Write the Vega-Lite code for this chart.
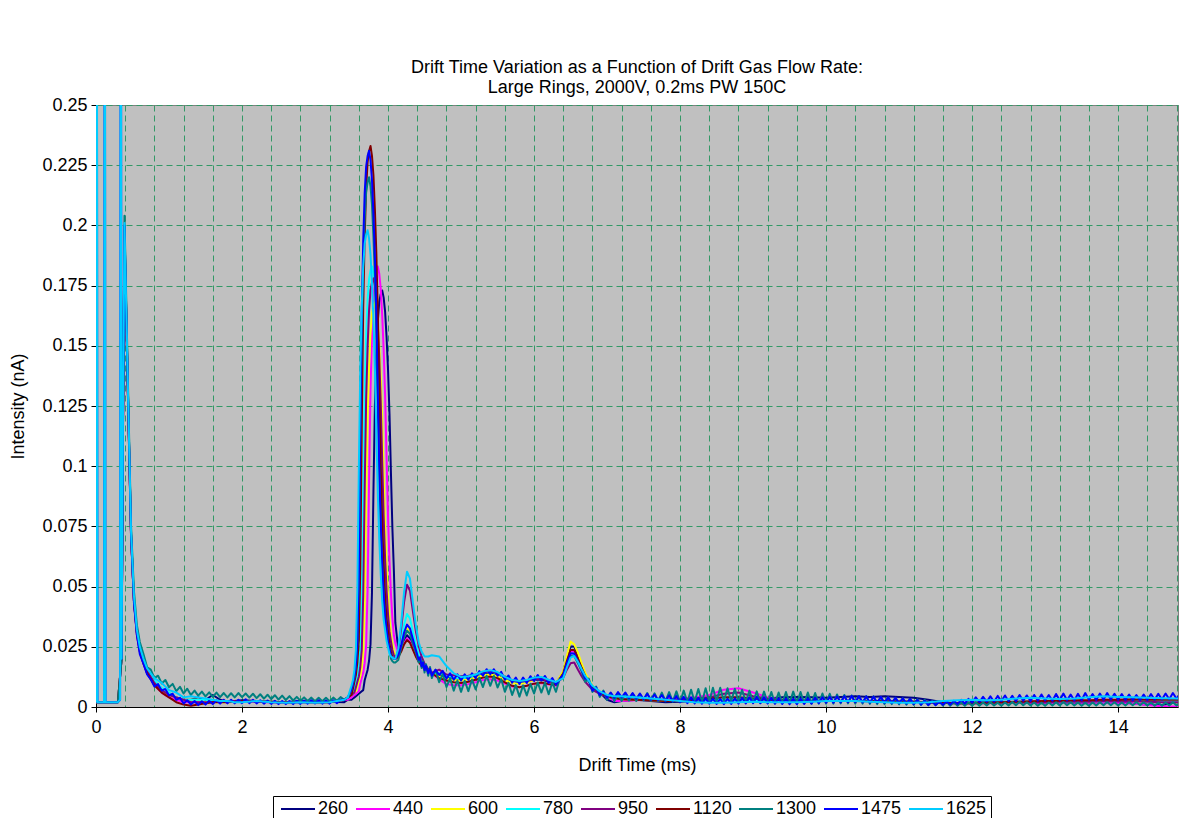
{
"$schema":"https://vega.github.io/schema/vega-lite/v6.json",
"width":1082,"height":602,
"autosize":{"type":"none"},
"padding":{"left":96,"top":105,"right":1,"bottom":111},
"background":"white",
"title":{"text":["Drift Time Variation as a Function of Drift Gas Flow Rate:","Large Rings, 2000V, 0.2ms PW 150C"],"fontSize":18,"fontWeight":"normal","font":"Liberation Sans","color":"black","lineHeight":20,"offset":-1,"anchor":"middle"},
"data":{"values":[
{"t":0,"260":0.002,"440":0.002,"600":0.002,"780":0.002,"950":0.002,"1120":0.002,"1300":0.002,"1475":0.002,"1625":0.002},
{"t":0.01,"1475":0.4,"1625":0.4},
{"t":0.02,"1475":0.002,"1625":0.002},
{"t":0.11,"1475":0.002,"1625":0.002},
{"t":0.12,"1475":0.4,"1625":0.4},
{"t":0.13,"1475":0.002,"1625":0.002},
{"t":0.3,"260":0.002,"440":0.002,"600":0.002,"780":0.002,"950":0.002,"1120":0.002,"1300":0.002,"1475":0.002,"1625":0.002},
{"t":0.33,"1475":0.003,"1625":0.003},
{"t":0.34,"1475":0.4,"1625":0.4},
{"t":0.35,"260":0.02,"440":0.02,"600":0.02,"780":0.02,"950":0.02,"1120":0.02,"1300":0.02,"1475":0.02,"1625":0.02},
{"t":0.37,"260":0.115,"440":0.118,"600":0.12,"780":0.122,"950":0.118,"1120":0.12,"1300":0.125,"1475":0.12,"1625":0.122},
{"t":0.39,"260":0.195,"440":0.197,"600":0.198,"780":0.2,"950":0.196,"1120":0.198,"1300":0.204,"1475":0.2,"1625":0.201},
{"t":0.41,"260":0.168,"440":0.169,"600":0.17,"780":0.171,"950":0.169,"1120":0.17,"1300":0.175,"1475":0.17,"1625":0.172},
{"t":0.44,"260":0.125,"440":0.126,"600":0.127,"780":0.128,"950":0.126,"1120":0.127,"1300":0.131,"1475":0.127,"1625":0.128},
{"t":0.48,"260":0.071,"440":0.071,"600":0.072,"780":0.073,"950":0.071,"1120":0.072,"1300":0.075,"1475":0.072,"1625":0.073},
{"t":0.52,"260":0.044,"440":0.044,"600":0.045,"780":0.045,"950":0.044,"1120":0.044,"1300":0.048,"1475":0.043,"1625":0.046},
{"t":0.56,"260":0.031,"440":0.03,"600":0.031,"780":0.031,"950":0.031,"1120":0.03,"1300":0.034,"1475":0.03,"1625":0.032},
{"t":0.6,"260":0.024,"440":0.023,"600":0.024,"780":0.024,"950":0.024,"1120":0.023,"1300":0.027,"1475":0.022,"1625":0.025},
{"t":0.65,"260":0.019,"440":0.018,"600":0.019,"780":0.019,"950":0.019,"1120":0.018,"1300":0.022,"1475":0.018,"1625":0.02},
{"t":0.7,"260":0.015,"440":0.014,"600":0.015,"780":0.015,"950":0.015,"1120":0.014,"1300":0.0165,"1475":0.0135,"1625":0.016},
{"t":0.75,"1300":0.0155,"1475":0.0115},
{"t":0.8,"260":0.01,"440":0.009,"600":0.01,"780":0.011,"950":0.01,"1120":0.009,"1300":0.012,"1475":0.0085,"1625":0.012},
{"t":0.85,"1300":0.013,"1475":0.0095},
{"t":0.9,"260":0.007,"440":0.006,"600":0.007,"780":0.008,"950":0.007,"1120":0.006,"1300":0.0098,"1475":0.0068,"1625":0.01},
{"t":0.95,"1300":0.0112,"1475":0.0075},
{"t":1.0,"260":0.005,"440":0.004,"600":0.005,"780":0.006,"950":0.005,"1120":0.004,"1300":0.0082,"1475":0.0048,"1625":0.007},
{"t":1.05,"1300":0.0096,"1475":0.0055},
{"t":1.1,"260":0.004,"440":0.003,"600":0.004,"780":0.004,"950":0.004,"1120":0.002,"1300":0.0066,"1475":0.003,"1625":0.006},
{"t":1.15,"1300":0.0084,"1475":0.0038},
{"t":1.2,"260":0.003,"440":0.002,"600":0.003,"780":0.003,"950":0.003,"1120":0.001,"1300":0.0056,"1475":0.0015,"1625":0.004},
{"t":1.25,"1300":0.0076,"1475":0.0028},
{"t":1.3,"260":0.003,"440":0.002,"600":0.003,"780":0.003,"950":0.002,"1120":0.0005,"1300":0.005,"1475":0.001,"1625":0.0045},
{"t":1.35,"1300":0.0068,"1475":0.0025},
{"t":1.4,"260":0.004,"440":0.002,"600":0.003,"780":0.003,"950":0.002,"1120":0.001,"1300":0.0047,"1475":0.0008,"1625":0.004},
{"t":1.45,"1300":0.0064,"1475":0.0024},
{"t":1.5,"260":0.003,"440":0.002,"600":0.002,"780":0.003,"950":0.002,"1120":0.0015,"1300":0.0044,"1475":0.001,"1625":0.0035},
{"t":1.55,"1300":0.0061,"1475":0.0026},
{"t":1.6,"260":0.005,"440":0.002,"600":0.002,"780":0.0025,"950":0.002,"1120":0.002,"1300":0.0042,"1475":0.0012,"1625":0.003},
{"t":1.65,"1300":0.006,"1475":0.0028},
{"t":1.7,"260":0.003,"440":0.0025,"600":0.002,"780":0.0025,"950":0.0025,"1120":0.002,"1300":0.0041,"1475":0.0014,"1625":0.0025},
{"t":1.75,"1300":0.0058,"1475":0.003},
{"t":1.8,"260":0.002,"440":0.0025,"600":0.002,"780":0.0025,"950":0.0025,"1120":0.002,"1300":0.004,"1475":0.0015,"1625":0.0025},
{"t":1.85,"1300":0.0057,"1475":0.003},
{"t":1.9,"260":0.0025,"440":0.0025,"600":0.0022,"780":0.0025,"950":0.0025,"1120":0.0022,"1300":0.004,"1475":0.0015,"1625":0.002},
{"t":1.95,"1300":0.0058,"1475":0.003},
{"t":2.0,"260":0.0028,"440":0.0025,"600":0.0025,"780":0.0025,"950":0.0025,"1120":0.0025,"1300":0.0041,"1475":0.0016,"1625":0.002},
{"t":2.05,"1300":0.0056,"1475":0.0032},
{"t":2.1,"1300":0.0039,"1475":0.0016},
{"t":2.15,"1300":0.0055,"1475":0.003},
{"t":2.2,"260":0.0025,"440":0.0022,"600":0.0025,"780":0.0025,"950":0.0022,"1120":0.0025,"1300":0.0037,"1475":0.0015,"1625":0.0025},
{"t":2.25,"1300":0.0053,"1475":0.0028},
{"t":2.3,"1300":0.0035,"1475":0.0014},
{"t":2.35,"1300":0.0051,"1475":0.0027},
{"t":2.4,"260":0.0022,"440":0.002,"600":0.0022,"780":0.0022,"950":0.002,"1120":0.0022,"1300":0.0033,"1475":0.0013,"1625":0.002},
{"t":2.45,"1300":0.0049,"1475":0.0026},
{"t":2.5,"1300":0.0031,"1475":0.0012},
{"t":2.55,"1300":0.0047,"1475":0.0025},
{"t":2.6,"260":0.002,"440":0.0018,"600":0.002,"780":0.002,"950":0.0018,"1120":0.002,"1300":0.0029,"1475":0.0012,"1625":0.0018},
{"t":2.65,"1300":0.0045,"1475":0.0025},
{"t":2.7,"1300":0.0027,"1475":0.0012},
{"t":2.75,"1300":0.0042,"1475":0.0026},
{"t":2.8,"260":0.0025,"440":0.002,"600":0.002,"780":0.0022,"950":0.002,"1120":0.0022,"1300":0.0026,"1475":0.0013,"1625":0.002},
{"t":2.85,"1300":0.004,"1475":0.0027},
{"t":2.9,"1300":0.0025,"1475":0.0014},
{"t":2.95,"1300":0.0039,"1475":0.0028},
{"t":3.0,"260":0.002,"440":0.0018,"600":0.0018,"780":0.002,"950":0.0018,"1120":0.002,"1300":0.0024,"1475":0.0015,"1625":0.0018},
{"t":3.05,"1300":0.0038,"1475":0.0028},
{"t":3.1,"1300":0.0024,"1475":0.0014},
{"t":3.15,"1300":0.0038,"1475":0.0027},
{"t":3.2,"260":0.0022,"440":0.002,"600":0.002,"780":0.0022,"950":0.002,"1120":0.002,"1300":0.0024,"1475":0.0014,"1625":0.002},
{"t":3.25,"1300":0.0039,"1475":0.0028},
{"t":3.3,"1300":0.0026,"1475":0.0016},
{"t":3.35,"1300":0.0041,"1475":0.003},
{"t":3.4,"260":0.002,"440":0.003,"600":0.003,"780":0.003,"950":0.003,"1120":0.003,"1300":0.003,"1475":0.003,"1625":0.003},
{"t":3.45,"260":0.003,"440":0.003,"600":0.004,"780":0.004,"950":0.004,"1120":0.004,"1300":0.004,"1475":0.004,"1625":0.004},
{"t":3.5,"260":0.003,"440":0.004,"600":0.005,"780":0.005,"950":0.005,"1120":0.005,"1300":0.0072,"1475":0.0073,"1625":0.0089},
{"t":3.52,"260":0.0035,"440":0.0045,"600":0.0055,"780":0.0055,"950":0.0055,"1120":0.0077,"1300":0.0098,"1475":0.01,"1625":0.0112},
{"t":3.54,"260":0.004,"440":0.005,"600":0.006,"780":0.0077,"950":0.006,"1120":0.0106,"1300":0.0124,"1475":0.0127,"1625":0.0156},
{"t":3.56,"260":0.0045,"440":0.0055,"600":0.0065,"780":0.0101,"950":0.0082,"1120":0.0133,"1300":0.0172,"1475":0.0178,"1625":0.0237},
{"t":3.58,"260":0.005,"440":0.006,"600":0.0086,"780":0.0123,"950":0.0105,"1120":0.0184,"1300":0.0262,"1475":0.0272,"1625":0.0491},
{"t":3.6,"260":0.0055,"440":0.0065,"600":0.0108,"780":0.0163,"950":0.0126,"1120":0.0278,"1300":0.0543,"1475":0.0567,"1625":0.0989},
{"t":3.62,"260":0.006,"440":0.0097,"600":0.0128,"780":0.0238,"950":0.0165,"1120":0.0575,"1300":0.1098,"1475":0.1151,"1625":0.141},
{"t":3.64,"260":0.0065,"440":0.012,"600":0.0165,"780":0.0469,"950":0.0237,"1120":0.1162,"1300":0.1566,"1475":0.1643,"1625":0.1657},
{"t":3.66,"260":0.007,"440":0.0142,"600":0.0233,"780":0.0925,"950":0.0462,"1120":0.1658,"1300":0.1841,"1475":0.1932,"1625":0.1829},
{"t":3.68,"260":0.0111,"440":0.0182,"600":0.0444,"780":0.131,"950":0.0903,"1120":0.195,"1300":0.2032,"1475":0.2133,"1625":0.1924},
{"t":3.7,"260":0.0133,"440":0.0256,"600":0.0858,"780":0.1536,"950":0.1276,"1120":0.2152,"1300":0.2137,"1475":0.2244,"1625":0.1961},
{"t":3.72,"260":0.0154,"440":0.0485,"600":0.1208,"780":0.1692,"950":0.1495,"1120":0.2263,"1300":0.2179,"1475":0.2288,"1625":0.198},
{"t":3.74,"260":0.0192,"440":0.0935,"600":0.1413,"780":0.1778,"950":0.1647,"1120":0.2308,"1300":0.22,"1475":0.231,"1625":0.1946},
{"t":3.76,"260":0.0261,"440":0.1316,"600":0.1555,"780":0.1813,"950":0.173,"1120":0.233,"1300":0.2162,"1475":0.227,"1625":0.1879},
{"t":3.78,"260":0.0475,"440":0.1539,"600":0.1634,"780":0.183,"950":0.1763,"1120":0.2289,"1300":0.2086,"1475":0.2189,"1625":0.1762},
{"t":3.8,"260":0.0895,"440":0.1694,"600":0.1664,"780":0.1799,"950":0.178,"1120":0.2208,"1300":0.1953,"1475":0.2049,"1625":0.161},
{"t":3.82,"260":0.125,"440":0.1779,"600":0.168,"780":0.1738,"950":0.175,"1120":0.2066,"1300":0.1782,"1475":0.1868,"1625":0.1409},
{"t":3.84,"260":0.1459,"440":0.1813,"600":0.1652,"780":0.1631,"950":0.1691,"1120":0.1883,"1300":0.1554,"1475":0.1627,"1625":0.114},
{"t":3.86,"260":0.1603,"440":0.183,"600":0.1597,"780":0.1492,"950":0.1587,"1120":0.1638,"1300":0.1248,"1475":0.1303,"1625":0.0885},
{"t":3.88,"260":0.1682,"440":0.1799,"600":0.15,"780":0.1307,"950":0.1452,"1120":0.131,"1300":0.0959,"1475":0.0998,"1625":0.0695},
{"t":3.9,"260":0.1715,"440":0.1737,"600":0.1372,"780":0.1055,"950":0.127,"1120":0.0998,"1300":0.0741,"1475":0.0767,"1625":0.0552},
{"t":3.92,"260":0.173,"440":0.1627,"600":0.1201,"780":0.0816,"950":0.1025,"1120":0.0764,"1300":0.0579,"1475":0.0597,"1625":0.0441},
{"t":3.94,"260":0.17,"440":0.1484,"600":0.097,"780":0.0637,"950":0.0792,"1120":0.0591,"1300":0.0454,"1475":0.0465,"1625":0.0363},
{"t":3.96,"260":0.1641,"440":0.1293,"600":0.0751,"780":0.0503,"950":0.0617,"1120":0.0458,"1300":0.0367,"1475":0.0374,"1625":0.0319},
{"t":3.98,"260":0.1536,"440":0.1035,"600":0.0585,"780":0.0399,"950":0.0487,"1120":0.0366,"1300":0.0318,"1475":0.0322,"1625":0.0275},
{"t":4.0,"260":0.14,"440":0.079,"600":0.0462,"780":0.0326,"950":0.0385,"1120":0.0314,"1300":0.0269,"1475":0.0271,"1625":0.0248},
{"t":4.02,"260":0.1217,"440":0.0606,"600":0.0366,"780":0.0284,"950":0.0314,"1120":0.0263,"1300":0.024,"1475":0.0241,"1625":0.022},
{"t":4.04,"260":0.097,"440":0.0469,"600":0.0298,"780":0.0243,"950":0.0273,"1120":0.0231,"1300":0.02,"1475":0.021,"1625":0.021},
{"t":4.06,"260":0.0739,"440":0.0368,"600":0.0264,"780":0.0221,"950":0.0237,"1120":0.0205,"1300":0.019,"1475":0.0205,"1625":0.0205},
{"t":4.08,"260":0.0567,"440":0.0298,"600":0.023,"780":0.02,"950":0.0216,"1120":0.02,"1300":0.0185,"1475":0.02,"1625":0.02},
{"t":4.1,"260":0.035,"440":0.0265,"600":0.0215,"780":0.02,"950":0.02,"1120":0.02,"1300":0.0185,"1475":0.02,"1625":0.02},
{"t":4.14,"260":0.024,"440":0.0226,"600":0.0213,"780":0.022,"950":0.0235,"1120":0.0207,"1300":0.0195,"1475":0.0215,"1625":0.0242},
{"t":4.18,"260":0.025,"440":0.0233,"600":0.025,"780":0.0274,"950":0.0324,"1120":0.023,"1300":0.0246,"1475":0.0256,"1625":0.0346},
{"t":4.22,"260":0.0275,"440":0.0265,"600":0.0298,"780":0.0343,"950":0.0436,"1120":0.026,"1300":0.029,"1475":0.0309,"1625":0.0478},
{"t":4.26,"260":0.0298,"440":0.0285,"600":0.0327,"780":0.0386,"950":0.0508,"1120":0.0278,"1300":0.0317,"1475":0.0342,"1625":0.0562},
{"t":4.3,"260":0.0285,"440":0.0273,"600":0.0313,"780":0.0368,"950":0.0483,"1120":0.0267,"1300":0.0304,"1475":0.0327,"1625":0.0534},
{"t":4.34,"260":0.0252,"440":0.0243,"600":0.0272,"780":0.0313,"950":0.0398,"1120":0.0238,"1300":0.0265,"1475":0.0282,"1625":0.0435},
{"t":4.38,"260":0.0219,"440":0.0213,"600":0.0233,"780":0.026,"950":0.0316,"1120":0.021,"1300":0.0228,"1475":0.0239,"1625":0.0341},
{"t":4.42,"260":0.0194,"440":0.019,"600":0.0202,"780":0.0219,"950":0.0254,"1120":0.0188,"1300":0.0185,"1475":0.0196,"1625":0.0269},
{"t":4.44,"1300":0.0208,"1475":0.0205},
{"t":4.46,"260":0.0174,"440":0.0172,"600":0.0179,"780":0.0189,"950":0.0209,"1120":0.0171,"1300":0.0162,"1475":0.0169,"1625":0.023},
{"t":4.48,"1300":0.019,"1475":0.0185},
{"t":4.5,"260":0.0161,"440":0.016,"600":0.0164,"780":0.0169,"950":0.018,"1120":0.0159,"1300":0.0143,"1475":0.0153,"1625":0.021},
{"t":4.52,"1300":0.0178,"1475":0.0172},
{"t":4.55,"260":0.015,"440":0.0149,"600":0.0151,"780":0.0153,"950":0.0158,"1120":0.0149,"1300":0.013,"1475":0.014,"1625":0.021},
{"t":4.575,"1300":0.0166,"1475":0.0159},
{"t":4.6,"260":0.0141,"440":0.014,"600":0.0142,"780":0.0142,"950":0.0143,"1120":0.014,"1300":0.012,"1475":0.013,"1625":0.0215},
{"t":4.65,"1300":0.0155,"1475":0.0155},
{"t":4.7,"260":0.0135,"440":0.0115,"600":0.0128,"780":0.014,"950":0.0155,"1120":0.012,"1300":0.0103,"1475":0.0133,"1625":0.021},
{"t":4.75,"1300":0.0137,"1475":0.015},
{"t":4.8,"260":0.0125,"440":0.0095,"600":0.0118,"780":0.013,"950":0.0135,"1120":0.011,"1300":0.0083,"1475":0.0118,"1625":0.017},
{"t":4.85,"1300":0.012,"1475":0.014},
{"t":4.9,"260":0.0118,"440":0.009,"600":0.0112,"780":0.0122,"950":0.0132,"1120":0.0103,"1300":0.0068,"1475":0.0113,"1625":0.014},
{"t":4.95,"1300":0.011,"1475":0.0136},
{"t":5.0,"260":0.0116,"440":0.009,"600":0.011,"780":0.0118,"950":0.0128,"1120":0.01,"1300":0.0063,"1475":0.011,"1625":0.0125},
{"t":5.05,"1300":0.0109,"1475":0.0136},
{"t":5.1,"260":0.0122,"440":0.0095,"600":0.0115,"780":0.0123,"950":0.013,"1120":0.0105,"1300":0.0066,"1475":0.0113,"1625":0.0128},
{"t":5.15,"1300":0.0114,"1475":0.014},
{"t":5.2,"260":0.013,"440":0.0103,"600":0.0122,"780":0.0132,"950":0.0135,"1120":0.0113,"1300":0.0073,"1475":0.012,"1625":0.0135},
{"t":5.25,"1300":0.0122,"1475":0.0149},
{"t":5.3,"260":0.014,"440":0.0112,"600":0.0131,"780":0.0142,"950":0.0143,"1120":0.0122,"1300":0.0083,"1475":0.013,"1625":0.0148},
{"t":5.35,"1300":0.013,"1475":0.0157},
{"t":5.4,"260":0.0143,"440":0.0115,"600":0.0135,"780":0.0147,"950":0.0148,"1120":0.0127,"1300":0.0088,"1475":0.0136,"1625":0.0153},
{"t":5.45,"1300":0.0129,"1475":0.0157},
{"t":5.5,"260":0.0136,"440":0.011,"600":0.0128,"780":0.014,"950":0.0142,"1120":0.012,"1300":0.0081,"1475":0.013,"1625":0.0145},
{"t":5.55,"1300":0.0116,"1475":0.0146},
{"t":5.6,"260":0.012,"440":0.0097,"600":0.0112,"780":0.0122,"950":0.0125,"1120":0.0102,"1300":0.0063,"1475":0.0113,"1625":0.0125},
{"t":5.65,"1300":0.0101,"1475":0.0131},
{"t":5.7,"260":0.0108,"440":0.0085,"600":0.01,"780":0.011,"950":0.011,"1120":0.0088,"1300":0.005,"1475":0.0101,"1625":0.0112},
{"t":5.75,"1300":0.0091,"1475":0.0122},
{"t":5.8,"260":0.0102,"440":0.0082,"600":0.0095,"780":0.0104,"950":0.0105,"1120":0.0082,"1300":0.0043,"1475":0.0096,"1625":0.0108},
{"t":5.85,"1300":0.009,"1475":0.0122},
{"t":5.9,"260":0.0106,"440":0.0088,"600":0.0102,"780":0.0108,"950":0.0108,"1120":0.0088,"1300":0.0048,"1475":0.01,"1625":0.0112},
{"t":5.95,"1300":0.0096,"1475":0.0128},
{"t":6.0,"260":0.0112,"440":0.0096,"600":0.0112,"780":0.0116,"950":0.0115,"1120":0.0097,"1300":0.0056,"1475":0.0108,"1625":0.0122},
{"t":6.05,"1300":0.0102,"1475":0.0133},
{"t":6.1,"260":0.0114,"440":0.01,"600":0.0125,"780":0.012,"950":0.0117,"1120":0.0102,"1300":0.006,"1475":0.011,"1625":0.0125},
{"t":6.15,"1300":0.0101,"1475":0.0129},
{"t":6.2,"260":0.0105,"440":0.0093,"600":0.0108,"780":0.011,"950":0.0107,"1120":0.0095,"1300":0.0053,"1475":0.01,"1625":0.0113},
{"t":6.25,"1300":0.0102,"1475":0.012},
{"t":6.3,"260":0.0098,"440":0.0088,"600":0.0098,"780":0.0102,"950":0.01,"1120":0.0092,"1300":0.0063,"1475":0.0093,"1625":0.0104},
{"t":6.35,"1300":0.0115,"1475":0.0115},
{"t":6.4,"260":0.0144,"440":0.0138,"600":0.0149,"780":0.0125,"950":0.0122,"1120":0.014,"1300":0.0132,"1475":0.0135,"1625":0.012},
{"t":6.45,"260":0.0202,"440":0.0189,"600":0.0212,"780":0.017,"950":0.0155,"1120":0.0192,"1300":0.0176,"1475":0.0183,"1625":0.0165},
{"t":6.5,"260":0.0251,"440":0.0232,"600":0.0272,"780":0.021,"950":0.0182,"1120":0.0237,"1300":0.0213,"1475":0.0223,"1625":0.0205},
{"t":6.55,"260":0.0251,"440":0.0232,"600":0.026,"780":0.0215,"950":0.0185,"1120":0.0237,"1300":0.0212,"1475":0.0222,"1625":0.0212},
{"t":6.6,"260":0.0214,"440":0.0198,"600":0.0226,"780":0.019,"950":0.0156,"1120":0.0202,"1300":0.0182,"1475":0.019,"1625":0.0188},
{"t":6.65,"260":0.0173,"440":0.0161,"600":0.0182,"780":0.0155,"950":0.0129,"1120":0.0164,"1300":0.0149,"1475":0.0155,"1625":0.0158},
{"t":6.7,"260":0.0136,"440":0.0127,"600":0.0142,"780":0.0125,"950":0.0105,"1120":0.0129,"1300":0.0105,"1475":0.0118,"1625":0.013},
{"t":6.75,"1300":0.0118,"1475":0.0112},
{"t":6.8,"260":0.0086,"440":0.0082,"600":0.0089,"780":0.0082,"950":0.0071,"1120":0.0083,"1300":0.0062,"1475":0.0068,"1625":0.0088},
{"t":6.85,"1300":0.0085,"1475":0.0081},
{"t":6.9,"260":0.0061,"440":0.0059,"600":0.0063,"780":0.006,"950":0.0055,"1120":0.006,"1300":0.0042,"1475":0.0049,"1625":0.0065},
{"t":6.95,"1300":0.0068,"1475":0.0064},
{"t":7.0,"260":0.003,"440":0.0045,"600":0.0046,"780":0.0046,"950":0.0043,"1120":0.0045,"1300":0.003,"1475":0.0038,"1625":0.005},
{"t":7.05,"1300":0.0058,"1475":0.006},
{"t":7.1,"260":0.002,"440":0.0025,"600":0.0037,"780":0.004,"950":0.0037,"1120":0.0037,"1300":0.0025,"1475":0.0038,"1625":0.0045},
{"t":7.15,"1300":0.0055,"1475":0.0062},
{"t":7.2,"260":0.0025,"440":0.0025,"600":0.0032,"780":0.0038,"950":0.0033,"1120":0.0032,"1300":0.0025,"1475":0.004,"1625":0.0045},
{"t":7.25,"1300":0.0058,"1475":0.006},
{"t":7.3,"1300":0.0027,"1475":0.0036},
{"t":7.35,"1300":0.0056,"1475":0.0058},
{"t":7.4,"260":0.003,"440":0.0028,"600":0.003,"780":0.0035,"950":0.003,"1120":0.003,"1300":0.0025,"1475":0.0034,"1625":0.004},
{"t":7.45,"1300":0.0055,"1475":0.0056},
{"t":7.5,"1300":0.0028,"1475":0.0032},
{"t":7.55,"1300":0.0058,"1475":0.0055},
{"t":7.6,"260":0.0025,"440":0.003,"600":0.0028,"780":0.0033,"950":0.0028,"1120":0.0028,"1300":0.0026,"1475":0.003,"1625":0.0035},
{"t":7.65,"1300":0.0057,"1475":0.0052},
{"t":7.7,"1300":0.0025,"1475":0.0028},
{"t":7.75,"1300":0.006,"1475":0.005},
{"t":7.8,"260":0.002,"440":0.0032,"600":0.0026,"780":0.003,"950":0.003,"1120":0.0025,"1300":0.0024,"1475":0.0026,"1625":0.003},
{"t":7.85,"1300":0.0062,"1475":0.0048},
{"t":7.9,"1300":0.0022,"1475":0.0024},
{"t":7.95,"1300":0.0065,"1475":0.0045},
{"t":8.0,"260":0.0022,"440":0.0035,"600":0.0025,"780":0.0028,"950":0.0032,"1120":0.0025,"1300":0.002,"1475":0.002,"1625":0.0025},
{"t":8.05,"1300":0.0068,"1475":0.0042},
{"t":8.1,"1300":0.002,"1475":0.0016},
{"t":8.15,"1300":0.0072,"1475":0.004},
{"t":8.2,"260":0.0025,"440":0.004,"600":0.0028,"780":0.0027,"950":0.0035,"1120":0.003,"1300":0.0022,"1475":0.0015,"1625":0.002},
{"t":8.25,"1300":0.0075,"1475":0.0038},
{"t":8.3,"1300":0.002,"1475":0.0014},
{"t":8.35,"1300":0.0078,"1475":0.0036},
{"t":8.4,"260":0.003,"440":0.005,"600":0.003,"780":0.0028,"950":0.004,"1120":0.0035,"1300":0.0022,"1475":0.0014,"1625":0.0018},
{"t":8.45,"1300":0.008,"1475":0.0035},
{"t":8.5,"1300":0.0024,"1475":0.0013},
{"t":8.55,"1300":0.008,"1475":0.0034},
{"t":8.6,"260":0.0032,"440":0.0072,"600":0.0033,"780":0.003,"950":0.0055,"1120":0.004,"1300":0.0025,"1475":0.0012,"1625":0.0018},
{"t":8.65,"1300":0.0078,"1475":0.0035},
{"t":8.7,"1300":0.0024,"1475":0.0013},
{"t":8.75,"1300":0.0076,"1475":0.0036},
{"t":8.8,"260":0.003,"440":0.0078,"600":0.0035,"780":0.0028,"950":0.006,"1120":0.004,"1300":0.0022,"1475":0.0014,"1625":0.002},
{"t":8.85,"1300":0.0072,"1475":0.0038},
{"t":8.9,"1300":0.002,"1475":0.0015},
{"t":8.95,"1300":0.0068,"1475":0.004},
{"t":9.0,"260":0.003,"440":0.006,"600":0.0032,"780":0.0026,"950":0.0045,"1120":0.0035,"1300":0.0018,"1475":0.0016,"1625":0.0022},
{"t":9.05,"1300":0.0065,"1475":0.0042},
{"t":9.1,"1300":0.0016,"1475":0.0016},
{"t":9.15,"1300":0.0064,"1475":0.004},
{"t":9.2,"260":0.0035,"440":0.004,"600":0.003,"780":0.0025,"950":0.0035,"1120":0.003,"1300":0.0016,"1475":0.0015,"1625":0.002},
{"t":9.25,"1300":0.0062,"1475":0.0038},
{"t":9.3,"1300":0.0015,"1475":0.0014},
{"t":9.35,"1300":0.006,"1475":0.0036},
{"t":9.4,"260":0.004,"440":0.003,"600":0.0028,"780":0.0025,"950":0.003,"1120":0.0028,"1300":0.0015,"1475":0.0013,"1625":0.002},
{"t":9.45,"1300":0.0062,"1475":0.0035},
{"t":9.5,"1300":0.0016,"1475":0.0012},
{"t":9.55,"1300":0.0064,"1475":0.0034},
{"t":9.6,"260":0.0042,"440":0.0028,"600":0.0026,"780":0.0024,"950":0.0028,"1120":0.0026,"1300":0.0016,"1475":0.0012,"1625":0.002},
{"t":9.65,"1300":0.0062,"1475":0.0035},
{"t":9.7,"1300":0.0015,"1475":0.0013},
{"t":9.75,"1300":0.006,"1475":0.0036},
{"t":9.8,"260":0.004,"440":0.0025,"600":0.0025,"780":0.0024,"950":0.0026,"1120":0.0025,"1300":0.0014,"1475":0.0014,"1625":0.0022},
{"t":9.85,"1300":0.0058,"1475":0.0038},
{"t":9.9,"1300":0.0014,"1475":0.0016},
{"t":9.95,"1300":0.0056,"1475":0.004},
{"t":10.0,"260":0.0038,"440":0.0025,"600":0.0025,"780":0.0025,"950":0.0025,"1120":0.0025,"1300":0.0014,"1475":0.0018,"1625":0.0025},
{"t":10.05,"1300":0.0055,"1475":0.0042},
{"t":10.1,"1300":0.0014,"1475":0.0018},
{"t":10.15,"1300":0.0052,"1475":0.0044},
{"t":10.2,"260":0.0042,"440":0.0025,"600":0.0025,"780":0.0025,"950":0.0025,"1120":0.0025,"1300":0.0015,"1475":0.0019,"1625":0.0025},
{"t":10.25,"1300":0.005,"1475":0.0045},
{"t":10.3,"1300":0.0015,"1475":0.002},
{"t":10.35,"1300":0.0048,"1475":0.0046},
{"t":10.4,"260":0.0045,"440":0.0025,"600":0.0025,"780":0.0025,"950":0.0025,"1120":0.0025,"1300":0.0014,"1475":0.002,"1625":0.0025},
{"t":10.45,"1300":0.0046,"1475":0.0045},
{"t":10.5,"1300":0.0014,"1475":0.0019},
{"t":10.55,"1300":0.0045,"1475":0.0044},
{"t":10.6,"260":0.0042,"440":0.0024,"600":0.0024,"780":0.0024,"950":0.0024,"1120":0.0025,"1300":0.0013,"1475":0.0018,"1625":0.0022},
{"t":10.65,"1300":0.0044,"1475":0.0043},
{"t":10.7,"1300":0.0012,"1475":0.0018},
{"t":10.75,"1300":0.0042,"1475":0.0042},
{"t":10.8,"260":0.0045,"440":0.0024,"600":0.0023,"780":0.0024,"950":0.0023,"1120":0.0024,"1300":0.0012,"1475":0.0017,"1625":0.002},
{"t":10.85,"1300":0.004,"1475":0.004},
{"t":10.9,"1300":0.0012,"1475":0.0016},
{"t":10.95,"1300":0.0038,"1475":0.0038},
{"t":11.0,"260":0.0042,"440":0.0023,"600":0.0022,"780":0.0023,"950":0.0022,"1120":0.0023,"1300":0.0011,"1475":0.0015,"1625":0.0018},
{"t":11.05,"1300":0.0036,"1475":0.0036},
{"t":11.1,"1300":0.001,"1475":0.0014},
{"t":11.15,"1300":0.0034,"1475":0.0034},
{"t":11.2,"260":0.0038,"440":0.0022,"600":0.0022,"780":0.0022,"950":0.0022,"1120":0.0022,"1300":0.001,"1475":0.0012,"1625":0.0018},
{"t":11.25,"1300":0.0032,"1475":0.003},
{"t":11.3,"1300":0.0009,"1475":0.001},
{"t":11.35,"1300":0.003,"1475":0.0026},
{"t":11.4,"260":0.003,"440":0.002,"600":0.002,"780":0.002,"950":0.002,"1120":0.002,"1300":0.0008,"1475":0.0008,"1625":0.002},
{"t":11.45,"1300":0.0026,"1475":0.0024},
{"t":11.5,"1300":0.0007,"1475":0.0008},
{"t":11.55,"1300":0.0024,"1475":0.0022},
{"t":11.6,"260":0.002,"440":0.0018,"600":0.0018,"780":0.0018,"950":0.0018,"1120":0.0018,"1300":0.0006,"1475":0.0009,"1625":0.0025},
{"t":11.65,"1300":0.0022,"1475":0.0024},
{"t":11.7,"1300":0.0005,"1475":0.001},
{"t":11.75,"1300":0.0021,"1475":0.0026},
{"t":11.8,"260":0.0015,"440":0.0015,"600":0.0016,"780":0.0016,"950":0.0016,"1120":0.0016,"1300":0.0005,"1475":0.0012,"1625":0.0028},
{"t":11.85,"1300":0.002,"1475":0.003},
{"t":11.9,"1300":0.0005,"1475":0.0014},
{"t":11.95,"1300":0.002,"1475":0.0034},
{"t":12.0,"260":0.0018,"440":0.0015,"600":0.0016,"780":0.0017,"950":0.0016,"1120":0.0016,"1300":0.0005,"1475":0.0018,"1625":0.003},
{"t":12.05,"1300":0.002,"1475":0.004},
{"t":12.1,"1300":0.0005,"1475":0.002},
{"t":12.15,"1300":0.0019,"1475":0.0042},
{"t":12.2,"260":0.002,"440":0.0016,"600":0.0017,"780":0.0018,"950":0.0017,"1120":0.0018,"1300":0.0006,"1475":0.0022,"1625":0.0028},
{"t":12.25,"1300":0.002,"1475":0.0044},
{"t":12.3,"1300":0.0006,"1475":0.0022},
{"t":12.35,"1300":0.0018,"1475":0.0046},
{"t":12.4,"260":0.002,"440":0.0017,"600":0.0018,"780":0.002,"950":0.0018,"1120":0.002,"1300":0.0005,"1475":0.0024,"1625":0.003},
{"t":12.45,"1300":0.0019,"1475":0.0048},
{"t":12.5,"1300":0.0006,"1475":0.0024},
{"t":12.55,"1300":0.0021,"1475":0.0046},
{"t":12.6,"260":0.0018,"440":0.0018,"600":0.002,"780":0.0022,"950":0.002,"1120":0.0022,"1300":0.0007,"1475":0.0024,"1625":0.0035},
{"t":12.65,"1300":0.0022,"1475":0.005},
{"t":12.7,"1300":0.0007,"1475":0.0026},
{"t":12.75,"1300":0.002,"1475":0.0048},
{"t":12.8,"260":0.0017,"440":0.0018,"600":0.0022,"780":0.0022,"950":0.002,"1120":0.0024,"1300":0.0006,"1475":0.0025,"1625":0.0038},
{"t":12.85,"1300":0.0019,"1475":0.005},
{"t":12.9,"1300":0.0005,"1475":0.0026},
{"t":12.95,"1300":0.0018,"1475":0.0052},
{"t":13.0,"260":0.0018,"440":0.0018,"600":0.0025,"780":0.0022,"950":0.002,"1120":0.0025,"1300":0.0005,"1475":0.0027,"1625":0.0035},
{"t":13.05,"1300":0.0019,"1475":0.005},
{"t":13.1,"1300":0.0006,"1475":0.0026},
{"t":13.15,"1300":0.002,"1475":0.0054},
{"t":13.2,"260":0.0018,"440":0.0018,"600":0.003,"780":0.0022,"950":0.0022,"1120":0.0026,"1300":0.0006,"1475":0.0028,"1625":0.0033},
{"t":13.25,"1300":0.0021,"1475":0.0056},
{"t":13.3,"1300":0.0007,"1475":0.0028},
{"t":13.35,"1300":0.002,"1475":0.0052},
{"t":13.4,"260":0.0017,"440":0.0018,"600":0.0028,"780":0.0022,"950":0.0022,"1120":0.0028,"1300":0.0006,"1475":0.0027,"1625":0.0035},
{"t":13.45,"1300":0.0019,"1475":0.0055},
{"t":13.5,"1300":0.0005,"1475":0.0028},
{"t":13.55,"1300":0.0018,"1475":0.0058},
{"t":13.6,"260":0.0018,"440":0.0018,"600":0.0024,"780":0.0023,"950":0.0022,"1120":0.0028,"1300":0.0005,"1475":0.003,"1625":0.004},
{"t":13.65,"1300":0.0019,"1475":0.0054},
{"t":13.7,"1300":0.0006,"1475":0.0029},
{"t":13.75,"1300":0.002,"1475":0.0056},
{"t":13.8,"260":0.002,"440":0.0017,"600":0.0025,"780":0.0024,"950":0.0024,"1120":0.003,"1300":0.0007,"1475":0.003,"1625":0.0045},
{"t":13.85,"1300":0.0021,"1475":0.0058},
{"t":13.9,"1300":0.0007,"1475":0.0031},
{"t":13.95,"1300":0.002,"1475":0.0055},
{"t":14.0,"260":0.0022,"440":0.0016,"600":0.0028,"780":0.0025,"950":0.0025,"1120":0.003,"1300":0.0006,"1475":0.003,"1625":0.0042},
{"t":14.05,"1300":0.0019,"1475":0.0054},
{"t":14.1,"1300":0.0006,"1475":0.0029},
{"t":14.15,"1300":0.002,"1475":0.0052},
{"t":14.2,"260":0.0015,"440":0.0015,"600":0.003,"780":0.0025,"950":0.0024,"1120":0.0032,"1300":0.0007,"1475":0.0028,"1625":0.004},
{"t":14.25,"1300":0.0021,"1475":0.005},
{"t":14.3,"1300":0.0007,"1475":0.0028},
{"t":14.35,"1300":0.002,"1475":0.0052},
{"t":14.4,"260":0.001,"440":0.0008,"600":0.0025,"780":0.0024,"950":0.0022,"1120":0.003,"1300":0.0006,"1475":0.0029,"1625":0.0038},
{"t":14.45,"1300":0.0019,"1475":0.0054},
{"t":14.5,"1300":0.0005,"1475":0.003},
{"t":14.55,"1300":0.0018,"1475":0.0055},
{"t":14.6,"260":0.0008,"440":0.0003,"600":0.0022,"780":0.0024,"950":0.002,"1120":0.003,"1300":0.0005,"1475":0.0031,"1625":0.0036},
{"t":14.65,"1300":0.0019,"1475":0.0056},
{"t":14.7,"1300":0.0006,"1475":0.0032},
{"t":14.75,"1300":0.002,"1475":0.0058},
{"t":14.8,"260":0.002,"440":0.0002,"600":0.002,"780":0.0024,"950":0.002,"1120":0.003,"1300":0.0006,"1475":0.0034,"1625":0.0035},
{"t":14.85,"260":0.002,"440":0.0002,"600":0.002,"780":0.0024,"950":0.002,"1120":0.003,"1300":0.0018,"1475":0.0056,"1625":0.0035}
]},
"transform":[
{"fold":["260","440","600","780","950","1120","1300","1475","1625"],"as":["s","v"]},
{"filter":"isValid(datum.v)"}
],
"mark":{"type":"line","strokeWidth":2,"strokeJoin":"round","clip":true},
"encoding":{
"x":{"field":"t","type":"quantitative","scale":{"domain":[0,14.82],"nice":false,"zero":false},
"axis":{"values":[0,0.4,0.8,1.2,1.6,2,2.4,2.8,3.2,3.6,4,4.4,4.8,5.2,5.6,6,6.4,6.8,7.2,7.6,8,8.4,8.8,9.2,9.6,10,10.4,10.8,11.2,11.6,12,12.4,12.8,13.2,13.6,14,14.4,14.8],
"tickCount":100,"labelExpr":"datum.value % 2 === 0 ? format(datum.value, 'd') : ''","labelOverlap":false,"labelFlush":false,
"grid":true,"gridColor":"#339966","gridDash":[6,4],"gridWidth":1,
"tickOpacity":{"condition":{"test":"datum.value % 2 === 0","value":1},"value":0},
"tickColor":"black","tickSize":5,"domainColor":"black","domainWidth":1,
"labelFontSize":18,"labelFont":"Liberation Sans","labelColor":"black","labelPadding":6,
"title":"Drift Time (ms)","titleFontSize":18,"titleFont":"Liberation Sans","titleFontWeight":"normal","titleColor":"black","titleX":541,"titleY":58,"titleBaseline":"middle"}},
"y":{"field":"v","type":"quantitative","scale":{"domain":[0,0.25],"nice":false},
"axis":{"values":[0,0.025,0.05,0.075,0.1,0.125,0.15,0.175,0.2,0.225,0.25],"tickCount":100,"format":".3~g",
"grid":true,"gridColor":"#339966","gridDash":[6,4],"gridWidth":1,
"tickColor":"black","tickSize":5,"domainColor":"black","domainWidth":1,
"labelFontSize":18,"labelFont":"Liberation Sans","labelColor":"black","labelPadding":4,
"title":"Intensity (nA)","titleFontSize":18,"titleFont":"Liberation Sans","titleFontWeight":"normal","titleColor":"black","titleX":-78,"titleY":301,"titleAlign":"center","titleBaseline":"middle"}},
"color":{"field":"s","type":"nominal",
"scale":{"domain":["260","440","600","780","950","1120","1300","1475","1625"],"range":["#000080","#FF00FF","#FFFF00","#00FFFF","#800080","#800000","#008080","#0000FF","#00CCFF"]},
"legend":{"title":null,"orient":"none","legendX":177,"legendY":691,"direction":"horizontal","columns":9,
"symbolType":"M-1,0H5.8","symbolSize":100,"symbolStrokeWidth":2,"labelFontSize":18,"labelFont":"Liberation Sans","labelColor":"black",
"labelOffset":23,"columnPadding":3,"padding":4,"strokeColor":"black","fillColor":"white"}}
},
"config":{"view":{"fill":"#C0C0C0","stroke":"#808080","strokeWidth":1},"font":"Liberation Sans"}
}
